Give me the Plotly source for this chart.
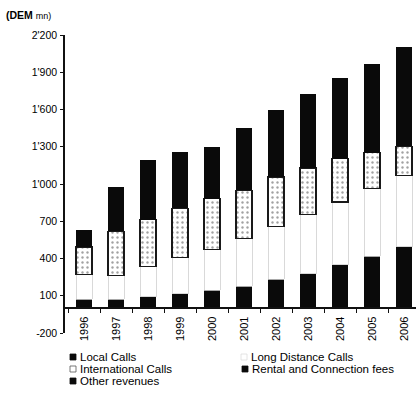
import plotly.graph_objects as go

# Revenue forecast, DEM millions, stacked from the bottom up
years = ["1996", "1997", "1998", "1999", "2000", "2001", "2002", "2003", "2004", "2005", "2006"]
local_calls = [70, 72, 91, 117, 145, 177, 231, 279, 348, 418, 496]
long_distance = [198, 193, 244, 288, 330, 384, 429, 475, 507, 545, 574]
international = [225, 355, 376, 398, 408, 388, 396, 375, 349, 290, 233]
rental_connection = [123, 338, 457, 430, 389, 469, 502, 554, 600, 655, 737]
other_revenues = [12, 18, 22, 25, 28, 34, 38, 44, 49, 55, 62]

y_ticks = [-200, 100, 400, 700, 1000, 1300, 1600, 1900, 2200]
y_tick_text = ["-200", "100", "400", "700", "1'000", "1'300", "1'600", "1'900", "2'200"]

W, H = 416, 394
ML, MR, MT, MB = 65, 0, 35, 61
PW, PH = W - ML - MR, H - MT - MB


def px_x(p):
    return (p - ML) / PW


def px_y(p):
    return (H - MB - p) / PH


FONT = "Liberation Sans, Arial, sans-serif"
INK = "#0a0a0a"

fig = go.Figure()
fig.add_bar(name="Local Calls", x=years, y=local_calls,
            marker=dict(color=INK, line=dict(width=0)))
fig.add_bar(name="Long Distance Calls", x=years, y=long_distance,
            marker=dict(color="white", line=dict(color="#cfcfcf", width=0.8)))
fig.add_bar(name="International Calls", x=years, y=international,
            marker=dict(color="white", line=dict(color="#1a1a1a", width=1.2),
                        pattern=dict(shape=".", fgcolor="#444", bgcolor="white",
                                     size=5, solidity=0.18)))
fig.add_bar(name="Rental and Connection fees", x=years, y=rental_connection,
            marker=dict(color=INK, line=dict(width=0)))
fig.add_bar(name="Other revenues", x=years, y=other_revenues,
            marker=dict(color=INK, line=dict(width=0)))

fig.update_layout(
    width=W, height=H,
    margin=dict(l=ML, r=MR, t=MT, b=MB, pad=0),
    barmode="stack", bargap=0.5,
    plot_bgcolor="white", paper_bgcolor="white",
    showlegend=False,
    font=dict(family=FONT, size=10, color="#000"),
)

fig.update_yaxes(
    range=[-200, 2200], tickvals=y_ticks, ticktext=y_tick_text,
    showline=True, linecolor="#111", linewidth=1.5, mirror=False,
    ticks="outside", ticklen=3, tickwidth=1, tickcolor="#111",
    showgrid=False, zeroline=False, ticklabelstandoff=1,
    tickfont=dict(family=FONT, size=10.5, color="#000"),
)

# the category axis sits on the zero line
fig.update_xaxes(
    type="category", range=[-0.594, 10.375],
    anchor="free", position=200 / 2400,
    showline=True, linecolor="#111", linewidth=2,
    ticks="outside", tickson="boundaries", ticklen=4, tickwidth=1, tickcolor="#111",
    tickangle=-90, showgrid=False, zeroline=False, ticklabelstandoff=3,
    tickfont=dict(family=FONT, size=11, color="#000"),
)

annotations = [
    dict(text="<b>(DEM</b> <span style='font-size:9px'>mn)</span>",
         x=px_x(4), y=px_y(15), xref="paper", yref="paper",
         xanchor="left", yanchor="middle", showarrow=False,
         font=dict(family=FONT, size=10.5, color="#000")),
]
shapes = []

# hand-placed legend: swatch + label, two columns
legend_items = [
    ("Local Calls", 70, 357, INK, INK),
    ("International Calls", 70, 369, "white", "#555"),
    ("Other revenues", 70, 381, INK, INK),
    ("Long Distance Calls", 241, 357, "white", "#ddd"),
    ("Rental and Connection fees", 242, 369, INK, INK),
]
for label, x0, yc, fill, edge in legend_items:
    shapes.append(dict(type="rect", xref="paper", yref="paper",
                       x0=px_x(x0), x1=px_x(x0 + 6), y0=px_y(yc + 3), y1=px_y(yc - 3),
                       fillcolor=fill, line=dict(color=edge, width=0.8)))
    annotations.append(dict(text=label, x=px_x(x0 + 8), y=px_y(yc), xref="paper", yref="paper",
                            xanchor="left", yanchor="middle", showarrow=False,
                            font=dict(family=FONT, size=11.5, color="#000")))

fig.update_layout(annotations=annotations, shapes=shapes)

fig.write_html("out.html")
